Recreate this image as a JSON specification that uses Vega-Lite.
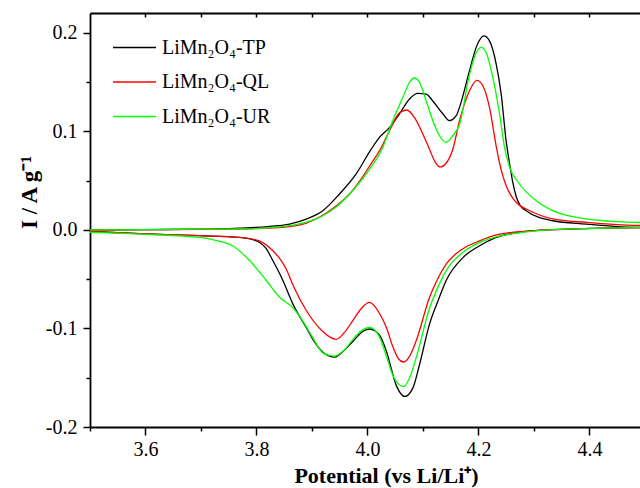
{
  "$schema": "https://vega.github.io/schema/vega-lite/v6.json",
  "width": 550,
  "height": 414,
  "autosize": {"type": "none"},
  "padding": {"left": 90, "top": 13, "right": 0, "bottom": 61},
  "background": "white",
  "config": {
    "view": {"stroke": null},
    "font": "Liberation Serif",
    "axis": {"labelFont": "Liberation Serif", "titleFont": "Liberation Serif", "labelColor": "black", "titleColor": "black", "tickColor": "black", "domainColor": "black", "grid": false, "tickWidth": 1.5, "domainWidth": 1.8}
  },
  "datasets": {
    "cv": [
      {"s":"LiMn₂O₄-TP","b":"a","V":3.50,"I":0.0},
      {"s":"LiMn₂O₄-TP","b":"a","V":3.60,"I":0.0004},
      {"s":"LiMn₂O₄-TP","b":"a","V":3.70,"I":0.0008},
      {"s":"LiMn₂O₄-TP","b":"a","V":3.769,"I":0.002},
      {"s":"LiMn₂O₄-TP","b":"a","V":3.82,"I":0.0035},
      {"s":"LiMn₂O₄-TP","b":"a","V":3.8595,"I":0.006},
      {"s":"LiMn₂O₄-TP","b":"a","V":3.8895,"I":0.011},
      {"s":"LiMn₂O₄-TP","b":"a","V":3.9195,"I":0.0196},
      {"s":"LiMn₂O₄-TP","b":"a","V":3.9495,"I":0.0365},
      {"s":"LiMn₂O₄-TP","b":"a","V":3.9796,"I":0.057},
      {"s":"LiMn₂O₄-TP","b":"a","V":4.0067,"I":0.082},
      {"s":"LiMn₂O₄-TP","b":"a","V":4.0216,"I":0.094},
      {"s":"LiMn₂O₄-TP","b":"a","V":4.0396,"I":0.104},
      {"s":"LiMn₂O₄-TP","b":"a","V":4.0577,"I":0.118},
      {"s":"LiMn₂O₄-TP","b":"a","V":4.0757,"I":0.133},
      {"s":"LiMn₂O₄-TP","b":"a","V":4.0906,"I":0.1387},
      {"s":"LiMn₂O₄-TP","b":"a","V":4.1058,"I":0.138},
      {"s":"LiMn₂O₄-TP","b":"a","V":4.1177,"I":0.131},
      {"s":"LiMn₂O₄-TP","b":"a","V":4.1357,"I":0.118},
      {"s":"LiMn₂O₄-TP","b":"a","V":4.1477,"I":0.111},
      {"s":"LiMn₂O₄-TP","b":"a","V":4.1598,"I":0.116},
      {"s":"LiMn₂O₄-TP","b":"a","V":4.1658,"I":0.1245},
      {"s":"LiMn₂O₄-TP","b":"a","V":4.1838,"I":0.1617},
      {"s":"LiMn₂O₄-TP","b":"a","V":4.1959,"I":0.1854},
      {"s":"LiMn₂O₄-TP","b":"a","V":4.2096,"I":0.197},
      {"s":"LiMn₂O₄-TP","b":"a","V":4.2198,"I":0.192},
      {"s":"LiMn₂O₄-TP","b":"a","V":4.2319,"I":0.1685},
      {"s":"LiMn₂O₄-TP","b":"a","V":4.2409,"I":0.138},
      {"s":"LiMn₂O₄-TP","b":"a","V":4.2499,"I":0.090},
      {"s":"LiMn₂O₄-TP","b":"a","V":4.2559,"I":0.068},
      {"s":"LiMn₂O₄-TP","b":"a","V":4.2619,"I":0.048},
      {"s":"LiMn₂O₄-TP","b":"a","V":4.2679,"I":0.034},
      {"s":"LiMn₂O₄-TP","b":"a","V":4.2739,"I":0.026},
      {"s":"LiMn₂O₄-TP","b":"a","V":4.2859,"I":0.0196},
      {"s":"LiMn₂O₄-TP","b":"a","V":4.3339,"I":0.0094},
      {"s":"LiMn₂O₄-TP","b":"a","V":4.3941,"I":0.006},
      {"s":"LiMn₂O₄-TP","b":"a","V":4.45,"I":0.0035},
      {"s":"LiMn₂O₄-TP","b":"a","V":4.50,"I":0.0026},
      {"s":"LiMn₂O₄-TP","b":"c","V":3.50,"I":-0.0015},
      {"s":"LiMn₂O₄-TP","b":"c","V":3.60,"I":-0.004},
      {"s":"LiMn₂O₄-TP","b":"c","V":3.697,"I":-0.0058},
      {"s":"LiMn₂O₄-TP","b":"c","V":3.769,"I":-0.0075},
      {"s":"LiMn₂O₄-TP","b":"c","V":3.80,"I":-0.011},
      {"s":"LiMn₂O₄-TP","b":"c","V":3.8175,"I":-0.019},
      {"s":"LiMn₂O₄-TP","b":"c","V":3.8294,"I":-0.031},
      {"s":"LiMn₂O₄-TP","b":"c","V":3.8474,"I":-0.051},
      {"s":"LiMn₂O₄-TP","b":"c","V":3.8654,"I":-0.075},
      {"s":"LiMn₂O₄-TP","b":"c","V":3.8896,"I":-0.099},
      {"s":"LiMn₂O₄-TP","b":"c","V":3.905,"I":-0.114},
      {"s":"LiMn₂O₄-TP","b":"c","V":3.9195,"I":-0.124},
      {"s":"LiMn₂O₄-TP","b":"c","V":3.941,"I":-0.129},
      {"s":"LiMn₂O₄-TP","b":"c","V":3.958,"I":-0.122},
      {"s":"LiMn₂O₄-TP","b":"c","V":3.974,"I":-0.113},
      {"s":"LiMn₂O₄-TP","b":"c","V":3.989,"I":-0.104},
      {"s":"LiMn₂O₄-TP","b":"c","V":4.004,"I":-0.1005},
      {"s":"LiMn₂O₄-TP","b":"c","V":4.022,"I":-0.107},
      {"s":"LiMn₂O₄-TP","b":"c","V":4.034,"I":-0.123},
      {"s":"LiMn₂O₄-TP","b":"c","V":4.052,"I":-0.158},
      {"s":"LiMn₂O₄-TP","b":"c","V":4.067,"I":-0.169},
      {"s":"LiMn₂O₄-TP","b":"c","V":4.082,"I":-0.160},
      {"s":"LiMn₂O₄-TP","b":"c","V":4.094,"I":-0.136},
      {"s":"LiMn₂O₄-TP","b":"c","V":4.112,"I":-0.095},
      {"s":"LiMn₂O₄-TP","b":"c","V":4.127,"I":-0.072},
      {"s":"LiMn₂O₄-TP","b":"c","V":4.142,"I":-0.051},
      {"s":"LiMn₂O₄-TP","b":"c","V":4.172,"I":-0.028},
      {"s":"LiMn₂O₄-TP","b":"c","V":4.202,"I":-0.016},
      {"s":"LiMn₂O₄-TP","b":"c","V":4.232,"I":-0.0075},
      {"s":"LiMn₂O₄-TP","b":"c","V":4.286,"I":-0.0015},
      {"s":"LiMn₂O₄-TP","b":"c","V":4.334,"I":0.0003},
      {"s":"LiMn₂O₄-TP","b":"c","V":4.39,"I":0.0013},
      {"s":"LiMn₂O₄-TP","b":"c","V":4.45,"I":0.0022},
      {"s":"LiMn₂O₄-TP","b":"c","V":4.50,"I":0.0025},

      {"s":"LiMn₂O₄-QL","b":"a","V":3.50,"I":0.0},
      {"s":"LiMn₂O₄-QL","b":"a","V":3.60,"I":0.0003},
      {"s":"LiMn₂O₄-QL","b":"a","V":3.70,"I":0.0006},
      {"s":"LiMn₂O₄-QL","b":"a","V":3.769,"I":0.001},
      {"s":"LiMn₂O₄-QL","b":"a","V":3.82,"I":0.002},
      {"s":"LiMn₂O₄-QL","b":"a","V":3.8595,"I":0.0034},
      {"s":"LiMn₂O₄-QL","b":"a","V":3.89,"I":0.007},
      {"s":"LiMn₂O₄-QL","b":"a","V":3.9195,"I":0.015},
      {"s":"LiMn₂O₄-QL","b":"a","V":3.945,"I":0.025},
      {"s":"LiMn₂O₄-QL","b":"a","V":3.9676,"I":0.0365},
      {"s":"LiMn₂O₄-QL","b":"a","V":3.99,"I":0.053},
      {"s":"LiMn₂O₄-QL","b":"a","V":4.0096,"I":0.070},
      {"s":"LiMn₂O₄-QL","b":"a","V":4.0216,"I":0.0805},
      {"s":"LiMn₂O₄-QL","b":"a","V":4.0396,"I":0.1008},
      {"s":"LiMn₂O₄-QL","b":"a","V":4.0577,"I":0.119},
      {"s":"LiMn₂O₄-QL","b":"a","V":4.0709,"I":0.1218},
      {"s":"LiMn₂O₄-QL","b":"a","V":4.0847,"I":0.114},
      {"s":"LiMn₂O₄-QL","b":"a","V":4.0997,"I":0.0975},
      {"s":"LiMn₂O₄-QL","b":"a","V":4.1117,"I":0.082},
      {"s":"LiMn₂O₄-QL","b":"a","V":4.122,"I":0.069},
      {"s":"LiMn₂O₄-QL","b":"a","V":4.131,"I":0.064},
      {"s":"LiMn₂O₄-QL","b":"a","V":4.142,"I":0.068},
      {"s":"LiMn₂O₄-QL","b":"a","V":4.1537,"I":0.082},
      {"s":"LiMn₂O₄-QL","b":"a","V":4.1658,"I":0.111},
      {"s":"LiMn₂O₄-QL","b":"a","V":4.1838,"I":0.1414},
      {"s":"LiMn₂O₄-QL","b":"a","V":4.197,"I":0.152},
      {"s":"LiMn₂O₄-QL","b":"a","V":4.2078,"I":0.1465},
      {"s":"LiMn₂O₄-QL","b":"a","V":4.2198,"I":0.1245},
      {"s":"LiMn₂O₄-QL","b":"a","V":4.2319,"I":0.085},
      {"s":"LiMn₂O₄-QL","b":"a","V":4.2379,"I":0.068},
      {"s":"LiMn₂O₄-QL","b":"a","V":4.2439,"I":0.055},
      {"s":"LiMn₂O₄-QL","b":"a","V":4.2499,"I":0.045},
      {"s":"LiMn₂O₄-QL","b":"a","V":4.2619,"I":0.032},
      {"s":"LiMn₂O₄-QL","b":"a","V":4.2739,"I":0.025},
      {"s":"LiMn₂O₄-QL","b":"a","V":4.2859,"I":0.0213},
      {"s":"LiMn₂O₄-QL","b":"a","V":4.3339,"I":0.0112},
      {"s":"LiMn₂O₄-QL","b":"a","V":4.3941,"I":0.0077},
      {"s":"LiMn₂O₄-QL","b":"a","V":4.45,"I":0.0055},
      {"s":"LiMn₂O₄-QL","b":"a","V":4.50,"I":0.0044},
      {"s":"LiMn₂O₄-QL","b":"c","V":3.50,"I":-0.0015},
      {"s":"LiMn₂O₄-QL","b":"c","V":3.60,"I":-0.004},
      {"s":"LiMn₂O₄-QL","b":"c","V":3.697,"I":-0.0058},
      {"s":"LiMn₂O₄-QL","b":"c","V":3.769,"I":-0.0075},
      {"s":"LiMn₂O₄-QL","b":"c","V":3.805,"I":-0.011},
      {"s":"LiMn₂O₄-QL","b":"c","V":3.8294,"I":-0.021},
      {"s":"LiMn₂O₄-QL","b":"c","V":3.8445,"I":-0.031},
      {"s":"LiMn₂O₄-QL","b":"c","V":3.8535,"I":-0.0396},
      {"s":"LiMn₂O₄-QL","b":"c","V":3.865,"I":-0.055},
      {"s":"LiMn₂O₄-QL","b":"c","V":3.890,"I":-0.082},
      {"s":"LiMn₂O₄-QL","b":"c","V":3.9166,"I":-0.1015},
      {"s":"LiMn₂O₄-QL","b":"c","V":3.9436,"I":-0.111},
      {"s":"LiMn₂O₄-QL","b":"c","V":3.9585,"I":-0.104},
      {"s":"LiMn₂O₄-QL","b":"c","V":3.9735,"I":-0.092},
      {"s":"LiMn₂O₄-QL","b":"c","V":3.9885,"I":-0.080},
      {"s":"LiMn₂O₄-QL","b":"c","V":4.0036,"I":-0.0735},
      {"s":"LiMn₂O₄-QL","b":"c","V":4.022,"I":-0.085},
      {"s":"LiMn₂O₄-QL","b":"c","V":4.034,"I":-0.099},
      {"s":"LiMn₂O₄-QL","b":"c","V":4.046,"I":-0.119},
      {"s":"LiMn₂O₄-QL","b":"c","V":4.055,"I":-0.130},
      {"s":"LiMn₂O₄-QL","b":"c","V":4.065,"I":-0.134},
      {"s":"LiMn₂O₄-QL","b":"c","V":4.076,"I":-0.128},
      {"s":"LiMn₂O₄-QL","b":"c","V":4.088,"I":-0.112},
      {"s":"LiMn₂O₄-QL","b":"c","V":4.112,"I":-0.068},
      {"s":"LiMn₂O₄-QL","b":"c","V":4.127,"I":-0.049},
      {"s":"LiMn₂O₄-QL","b":"c","V":4.142,"I":-0.0345},
      {"s":"LiMn₂O₄-QL","b":"c","V":4.172,"I":-0.019},
      {"s":"LiMn₂O₄-QL","b":"c","V":4.202,"I":-0.011},
      {"s":"LiMn₂O₄-QL","b":"c","V":4.232,"I":-0.005},
      {"s":"LiMn₂O₄-QL","b":"c","V":4.286,"I":-0.0012},
      {"s":"LiMn₂O₄-QL","b":"c","V":4.334,"I":0.0003},
      {"s":"LiMn₂O₄-QL","b":"c","V":4.39,"I":0.0013},
      {"s":"LiMn₂O₄-QL","b":"c","V":4.45,"I":0.0022},
      {"s":"LiMn₂O₄-QL","b":"c","V":4.50,"I":0.0025},

      {"s":"LiMn₂O₄-UR","b":"a","V":3.50,"I":0.0},
      {"s":"LiMn₂O₄-UR","b":"a","V":3.60,"I":0.0004},
      {"s":"LiMn₂O₄-UR","b":"a","V":3.70,"I":0.0008},
      {"s":"LiMn₂O₄-UR","b":"a","V":3.769,"I":0.001},
      {"s":"LiMn₂O₄-UR","b":"a","V":3.82,"I":0.0022},
      {"s":"LiMn₂O₄-UR","b":"a","V":3.8595,"I":0.0044},
      {"s":"LiMn₂O₄-UR","b":"a","V":3.89,"I":0.008},
      {"s":"LiMn₂O₄-UR","b":"a","V":3.9195,"I":0.0145},
      {"s":"LiMn₂O₄-UR","b":"a","V":3.945,"I":0.024},
      {"s":"LiMn₂O₄-UR","b":"a","V":3.9676,"I":0.0365},
      {"s":"LiMn₂O₄-UR","b":"a","V":3.9977,"I":0.057},
      {"s":"LiMn₂O₄-UR","b":"a","V":4.0276,"I":0.084},
      {"s":"LiMn₂O₄-UR","b":"a","V":4.0456,"I":0.111},
      {"s":"LiMn₂O₄-UR","b":"a","V":4.0636,"I":0.1346},
      {"s":"LiMn₂O₄-UR","b":"a","V":4.0757,"I":0.150},
      {"s":"LiMn₂O₄-UR","b":"a","V":4.0847,"I":0.1543},
      {"s":"LiMn₂O₄-UR","b":"a","V":4.0937,"I":0.150},
      {"s":"LiMn₂O₄-UR","b":"a","V":4.1058,"I":0.131},
      {"s":"LiMn₂O₄-UR","b":"a","V":4.1177,"I":0.111},
      {"s":"LiMn₂O₄-UR","b":"a","V":4.1297,"I":0.0957},
      {"s":"LiMn₂O₄-UR","b":"a","V":4.141,"I":0.089},
      {"s":"LiMn₂O₄-UR","b":"a","V":4.1537,"I":0.0957},
      {"s":"LiMn₂O₄-UR","b":"a","V":4.1658,"I":0.107},
      {"s":"LiMn₂O₄-UR","b":"a","V":4.1838,"I":0.158},
      {"s":"LiMn₂O₄-UR","b":"a","V":4.1959,"I":0.180},
      {"s":"LiMn₂O₄-UR","b":"a","V":4.2049,"I":0.1854},
      {"s":"LiMn₂O₄-UR","b":"a","V":4.2139,"I":0.180},
      {"s":"LiMn₂O₄-UR","b":"a","V":4.2258,"I":0.155},
      {"s":"LiMn₂O₄-UR","b":"a","V":4.2379,"I":0.118},
      {"s":"LiMn₂O₄-UR","b":"a","V":4.2469,"I":0.084},
      {"s":"LiMn₂O₄-UR","b":"a","V":4.2559,"I":0.064},
      {"s":"LiMn₂O₄-UR","b":"a","V":4.2739,"I":0.0467},
      {"s":"LiMn₂O₄-UR","b":"a","V":4.304,"I":0.0297},
      {"s":"LiMn₂O₄-UR","b":"a","V":4.3339,"I":0.0196},
      {"s":"LiMn₂O₄-UR","b":"a","V":4.3941,"I":0.0112},
      {"s":"LiMn₂O₄-UR","b":"a","V":4.45,"I":0.0085},
      {"s":"LiMn₂O₄-UR","b":"a","V":4.50,"I":0.0075},
      {"s":"LiMn₂O₄-UR","b":"c","V":3.50,"I":-0.0025},
      {"s":"LiMn₂O₄-UR","b":"c","V":3.60,"I":-0.0045},
      {"s":"LiMn₂O₄-UR","b":"c","V":3.697,"I":-0.0075},
      {"s":"LiMn₂O₄-UR","b":"c","V":3.73,"I":-0.011},
      {"s":"LiMn₂O₄-UR","b":"c","V":3.757,"I":-0.016},
      {"s":"LiMn₂O₄-UR","b":"c","V":3.7875,"I":-0.031},
      {"s":"LiMn₂O₄-UR","b":"c","V":3.8175,"I":-0.051},
      {"s":"LiMn₂O₄-UR","b":"c","V":3.841,"I":-0.068},
      {"s":"LiMn₂O₄-UR","b":"c","V":3.865,"I":-0.0786},
      {"s":"LiMn₂O₄-UR","b":"c","V":3.883,"I":-0.092},
      {"s":"LiMn₂O₄-UR","b":"c","V":3.900,"I":-0.108},
      {"s":"LiMn₂O₄-UR","b":"c","V":3.920,"I":-0.125},
      {"s":"LiMn₂O₄-UR","b":"c","V":3.941,"I":-0.128},
      {"s":"LiMn₂O₄-UR","b":"c","V":3.958,"I":-0.122},
      {"s":"LiMn₂O₄-UR","b":"c","V":3.974,"I":-0.111},
      {"s":"LiMn₂O₄-UR","b":"c","V":3.989,"I":-0.102},
      {"s":"LiMn₂O₄-UR","b":"c","V":4.004,"I":-0.099},
      {"s":"LiMn₂O₄-UR","b":"c","V":4.022,"I":-0.109},
      {"s":"LiMn₂O₄-UR","b":"c","V":4.034,"I":-0.128},
      {"s":"LiMn₂O₄-UR","b":"c","V":4.046,"I":-0.148},
      {"s":"LiMn₂O₄-UR","b":"c","V":4.055,"I":-0.156},
      {"s":"LiMn₂O₄-UR","b":"c","V":4.065,"I":-0.159},
      {"s":"LiMn₂O₄-UR","b":"c","V":4.076,"I":-0.150},
      {"s":"LiMn₂O₄-UR","b":"c","V":4.088,"I":-0.129},
      {"s":"LiMn₂O₄-UR","b":"c","V":4.112,"I":-0.079},
      {"s":"LiMn₂O₄-UR","b":"c","V":4.127,"I":-0.058},
      {"s":"LiMn₂O₄-UR","b":"c","V":4.142,"I":-0.041},
      {"s":"LiMn₂O₄-UR","b":"c","V":4.172,"I":-0.0227},
      {"s":"LiMn₂O₄-UR","b":"c","V":4.202,"I":-0.0126},
      {"s":"LiMn₂O₄-UR","b":"c","V":4.232,"I":-0.007},
      {"s":"LiMn₂O₄-UR","b":"c","V":4.286,"I":-0.002},
      {"s":"LiMn₂O₄-UR","b":"c","V":4.334,"I":0.0003},
      {"s":"LiMn₂O₄-UR","b":"c","V":4.39,"I":0.0013},
      {"s":"LiMn₂O₄-UR","b":"c","V":4.45,"I":0.0022},
      {"s":"LiMn₂O₄-UR","b":"c","V":4.50,"I":0.0025}
    ]
  },
  "data": {"name": "cv"},
  "layer": [
    {
      "mark": {"type": "line", "interpolate": "monotone", "strokeWidth": 1.3, "clip": true},
      "encoding": {
        "x": {"field": "V", "type": "quantitative", "scale": {"domain": [3.5, 4.491], "nice": false, "zero": false},
          "axis": {"orient": "bottom", "values": [3.6, 3.8, 4.0, 4.2, 4.4], "format": ".1f", "labelFontSize": 20, "tickSize": 8, "labelPadding": 4, "domain": true,
            "title": "Potential (vs Li/Li⁺)", "titleFontSize": 22, "titleFontWeight": "bold", "titleX": 296, "titleY": 55, "titleBaseline": "alphabetic", "titleAnchor": null}},
        "y": {"field": "I", "type": "quantitative", "scale": {"domain": [-0.2, 0.2203], "nice": false, "zero": false},
          "axis": {"orient": "left", "values": [-0.2, -0.1, 0.0, 0.1, 0.2], "labelExpr": "replace(format(datum.value, '.1f'), '\u2212', '-')", "labelFontSize": 20, "tickSize": 7, "labelPadding": 6, "domain": true,
            "title": "I / A g⁻¹", "titleFontSize": 23, "titleFontWeight": "bold", "titleX": -54, "titleY": 179, "titleAngle": -90, "titleBaseline": "alphabetic", "titleAlign": "center"}},
        "color": {"field": "s", "type": "nominal",
          "scale": {"domain": ["LiMn₂O₄-TP", "LiMn₂O₄-QL", "LiMn₂O₄-UR"], "range": ["#000000", "#ff0000", "#00ff00"]},
          "legend": {"orient": "none", "legendX": 22, "legendY": 12, "title": null, "symbolType": "stroke", "symbolSize": 1849, "symbolStrokeWidth": 1.3, "labelFontSize": 20, "labelFont": "Liberation Serif", "labelColor": "black", "labelOffset": 5, "padding": 0, "rowPadding": 1.5}},
        "detail": {"field": "b", "type": "nominal"}
      }
    },
    {
      "mark": {"type": "point", "opacity": 0},
      "encoding": {
        "x": {"field": "V", "type": "quantitative", "axis": {"orient": "bottom", "values": [3.5, 3.7, 3.9, 4.1, 4.3], "labels": false, "domain": false, "tickSize": 4, "title": null}},
        "y": {"field": "I", "type": "quantitative", "axis": {"orient": "left", "values": [-0.15, -0.05, 0.05, 0.15], "labels": false, "domain": false, "tickSize": 4, "title": null}}
      }
    },
    {
      "mark": {"type": "point", "opacity": 0},
      "encoding": {
        "x": {"field": "V", "type": "quantitative", "axis": {"orient": "top", "values": [3.6, 3.7, 3.8, 3.9, 4.0, 4.1, 4.2, 4.3, 4.4], "labels": false, "domain": false, "tickSize": 4, "offset": -4, "title": null}},
        "y": {"field": "I", "type": "quantitative", "axis": null}
      }
    },
    {
      "mark": {"type": "point", "opacity": 0},
      "encoding": {
        "x": {"field": "V", "type": "quantitative", "axis": {"orient": "top", "labels": false, "domain": true, "ticks": false, "title": null}},
        "y": {"field": "I", "type": "quantitative", "axis": null}
      }
    }
  ],
  "resolve": {"axis": {"x": "independent", "y": "independent"}}
}
